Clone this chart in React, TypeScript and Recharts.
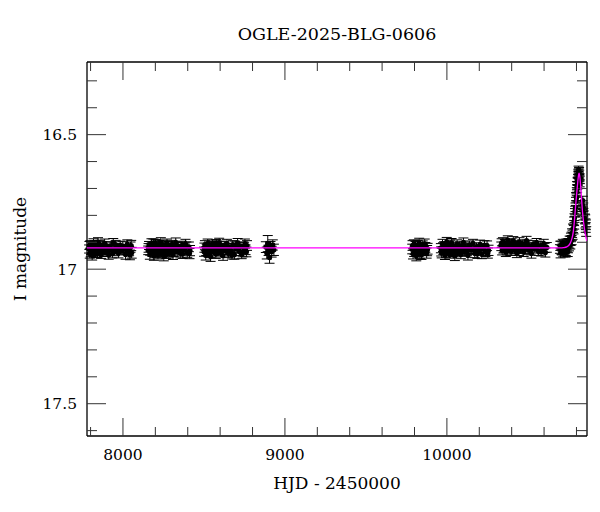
import React from "react";
import {
  ComposedChart,
  Scatter,
  ErrorBar,
  Line,
  XAxis,
  YAxis,
} from "recharts";

// OGLE seasons: [HJD - 2450000, I mag, error]
const season2017 = [
  [7791, 16.925, 0.015], [7795, 16.942, 0.017], [7799, 16.908, 0.014], [7803, 16.93, 0.016],
  [7806, 16.915, 0.015], [7810, 16.948, 0.018], [7814, 16.921, 0.014], [7818, 16.903, 0.016],
  [7822, 16.934, 0.015], [7826, 16.917, 0.013], [7831, 16.94, 0.017], [7836, 16.91, 0.015],
  [7841, 16.927, 0.014], [7846, 16.899, 0.016], [7852, 16.936, 0.015], [7858, 16.918, 0.013],
  [7865, 16.944, 0.016], [7872, 16.912, 0.014], [7879, 16.929, 0.015], [7887, 16.905, 0.017],
  [7895, 16.938, 0.014], [7903, 16.92, 0.013], [7912, 16.947, 0.016], [7921, 16.914, 0.015],
  [7930, 16.926, 0.014], [7940, 16.902, 0.016], [7950, 16.935, 0.015], [7961, 16.919, 0.014],
  [7972, 16.941, 0.017], [7983, 16.911, 0.015], [7994, 16.931, 0.016], [8005, 16.923, 0.015],
  [8016, 16.945, 0.018], [8027, 16.907, 0.016], [8038, 16.933, 0.017], [8047, 16.918, 0.019],
  [8054, 16.939, 0.02],
  [7793, 16.912, 0.015], [7801, 16.938, 0.016], [7808, 16.926, 0.015], [7816, 16.936, 0.016],
  [7824, 16.909, 0.014], [7833, 16.924, 0.015], [7843, 16.941, 0.016], [7855, 16.908, 0.015],
  [7868, 16.925, 0.014], [7883, 16.937, 0.016], [7899, 16.913, 0.015], [7916, 16.93, 0.016],
  [7935, 16.943, 0.015], [7955, 16.909, 0.016], [7977, 16.926, 0.015], [7999, 16.914, 0.016],
  [8021, 16.929, 0.017], [8043, 16.947, 0.018], [8051, 16.912, 0.019],
];

const season2018 = [
  [8156, 16.93, 0.016], [8161, 16.912, 0.015], [8166, 16.945, 0.018], [8171, 16.92, 0.014],
  [8176, 16.903, 0.016], [8181, 16.937, 0.015], [8186, 16.916, 0.014], [8191, 16.95, 0.017],
  [8196, 16.924, 0.015], [8201, 16.906, 0.016], [8206, 16.933, 0.014], [8211, 16.918, 0.015],
  [8216, 16.946, 0.016], [8222, 16.909, 0.015], [8228, 16.928, 0.013], [8234, 16.899, 0.016],
  [8240, 16.939, 0.015], [8246, 16.921, 0.014], [8252, 16.952, 0.017], [8258, 16.913, 0.015],
  [8265, 16.931, 0.014], [8272, 16.904, 0.016], [8279, 16.943, 0.015], [8286, 16.919, 0.014],
  [8293, 16.934, 0.016], [8301, 16.908, 0.015], [8309, 16.947, 0.017], [8317, 16.922, 0.014],
  [8326, 16.9, 0.016], [8335, 16.936, 0.015], [8344, 16.915, 0.014], [8354, 16.941, 0.017],
  [8364, 16.911, 0.015], [8375, 16.929, 0.016], [8386, 16.906, 0.017], [8397, 16.938, 0.018],
  [8407, 16.917, 0.018], [8414, 16.931, 0.019],
  [8158, 16.921, 0.016], [8168, 16.933, 0.015], [8178, 16.918, 0.016], [8188, 16.903, 0.015],
  [8198, 16.94, 0.016], [8208, 16.912, 0.015], [8219, 16.929, 0.014], [8231, 16.942, 0.016],
  [8243, 16.908, 0.015], [8255, 16.925, 0.016], [8268, 16.945, 0.015], [8282, 16.911, 0.014],
  [8297, 16.926, 0.016], [8313, 16.938, 0.015], [8330, 16.914, 0.016], [8349, 16.927, 0.015],
  [8369, 16.944, 0.016], [8391, 16.916, 0.017], [8411, 16.942, 0.019],
];

const season2019 = [
  [8501, 16.935, 0.017], [8506, 16.91, 0.016], [8511, 16.948, 0.018], [8517, 16.922, 0.015],
  [8523, 16.904, 0.016], [8529, 16.939, 0.015], [8535, 16.917, 0.014], [8541, 16.953, 0.018],
  [8547, 16.926, 0.015], [8553, 16.908, 0.016], [8559, 16.933, 0.014], [8566, 16.915, 0.015],
  [8573, 16.944, 0.016], [8580, 16.911, 0.015], [8587, 16.929, 0.014], [8594, 16.901, 0.016],
  [8602, 16.94, 0.015], [8610, 16.92, 0.014], [8618, 16.95, 0.017], [8626, 16.913, 0.015],
  [8634, 16.932, 0.014], [8642, 16.905, 0.016], [8651, 16.942, 0.015], [8660, 16.918, 0.014],
  [8669, 16.936, 0.016], [8678, 16.909, 0.015], [8688, 16.946, 0.017], [8698, 16.923, 0.014],
  [8708, 16.902, 0.016], [8718, 16.934, 0.015], [8728, 16.914, 0.015], [8738, 16.938, 0.016],
  [8748, 16.916, 0.016], [8757, 16.928, 0.018], [8766, 16.912, 0.018],
  [8503, 16.92, 0.017], [8514, 16.933, 0.016], [8526, 16.918, 0.015], [8538, 16.941, 0.016],
  [8550, 16.912, 0.015], [8562, 16.927, 0.014], [8576, 16.906, 0.016], [8590, 16.935, 0.015],
  [8606, 16.912, 0.016], [8622, 16.93, 0.015], [8638, 16.919, 0.014], [8655, 16.93, 0.016],
  [8673, 16.947, 0.015], [8693, 16.912, 0.016], [8713, 16.925, 0.015], [8733, 16.945, 0.016],
  [8753, 16.905, 0.017], [8762, 16.936, 0.018],
];

const season2020 = [
  [8882, 16.918, 0.02], [8888, 16.94, 0.022], [8894, 16.905, 0.03], [8899, 16.93, 0.019],
  [8905, 16.957, 0.021], [8911, 16.915, 0.018], [8918, 16.935, 0.02], [8925, 16.91, 0.019],
  [8932, 16.928, 0.021],
];

const season2022 = [
  [9786, 16.925, 0.018], [9791, 16.943, 0.019], [9796, 16.908, 0.017], [9801, 16.93, 0.016],
  [9806, 16.915, 0.018], [9811, 16.95, 0.019], [9817, 16.92, 0.016], [9823, 16.937, 0.017],
  [9829, 16.903, 0.018], [9836, 16.928, 0.016], [9843, 16.946, 0.018], [9851, 16.912, 0.017],
  [9859, 16.933, 0.016], [9867, 16.919, 0.018], [9875, 16.94, 0.019], [9881, 16.924, 0.02],
  [9788, 16.912, 0.018], [9798, 16.936, 0.017], [9809, 16.928, 0.018], [9820, 16.91, 0.017],
  [9833, 16.942, 0.018], [9847, 16.925, 0.017], [9863, 16.906, 0.018], [9878, 16.931, 0.019],
];

const season2023 = [
  [9963, 16.922, 0.017], [9968, 16.94, 0.018], [9973, 16.905, 0.016], [9978, 16.931, 0.015],
  [9983, 16.914, 0.016], [9988, 16.947, 0.017], [9993, 16.919, 0.014], [9999, 16.898, 0.016],
  [10005, 16.935, 0.015], [10011, 16.912, 0.014], [10017, 16.943, 0.016], [10023, 16.925, 0.015],
  [10029, 16.902, 0.016], [10035, 16.938, 0.015], [10042, 16.916, 0.014], [10049, 16.951, 0.017],
  [10056, 16.921, 0.015], [10063, 16.907, 0.016], [10070, 16.934, 0.014], [10078, 16.913, 0.015],
  [10086, 16.945, 0.016], [10094, 16.918, 0.015], [10102, 16.9, 0.016], [10111, 16.937, 0.015],
  [10120, 16.922, 0.014], [10130, 16.949, 0.017], [10140, 16.91, 0.015], [10150, 16.929, 0.016],
  [10161, 16.904, 0.015], [10172, 16.941, 0.016], [10183, 16.917, 0.015], [10194, 16.932, 0.016],
  [10205, 16.908, 0.016], [10216, 16.944, 0.017], [10227, 16.92, 0.016], [10238, 16.936, 0.017],
  [10248, 16.913, 0.018], [10257, 16.93, 0.019],
  [9965, 16.934, 0.017], [9976, 16.918, 0.016], [9986, 16.926, 0.016], [9996, 16.941, 0.015],
  [10008, 16.923, 0.015], [10020, 16.908, 0.016], [10032, 16.928, 0.015], [10045, 16.933, 0.016],
  [10059, 16.939, 0.015], [10074, 16.924, 0.015], [10090, 16.931, 0.016], [10106, 16.914, 0.015],
  [10125, 16.934, 0.016], [10145, 16.92, 0.015], [10166, 16.926, 0.016], [10188, 16.944, 0.016],
  [10210, 16.925, 0.016], [10232, 16.911, 0.017], [10253, 16.94, 0.019],
];

const season2024 = [
  [10336, 16.915, 0.016], [10341, 16.93, 0.017], [10346, 16.898, 0.015], [10352, 16.921, 0.016],
  [10358, 16.905, 0.015], [10364, 16.936, 0.017], [10370, 16.91, 0.014], [10376, 16.892, 0.016],
  [10382, 16.925, 0.015], [10389, 16.903, 0.014], [10396, 16.933, 0.016], [10403, 16.914, 0.015],
  [10410, 16.895, 0.016], [10417, 16.928, 0.015], [10424, 16.908, 0.014], [10432, 16.94, 0.017],
  [10440, 16.912, 0.015], [10448, 16.899, 0.016], [10456, 16.926, 0.014], [10465, 16.906, 0.015],
  [10474, 16.937, 0.016], [10483, 16.911, 0.015], [10492, 16.894, 0.016], [10502, 16.929, 0.015],
  [10512, 16.916, 0.014], [10522, 16.942, 0.017], [10532, 16.909, 0.015], [10543, 16.924, 0.016],
  [10554, 16.901, 0.015], [10565, 16.933, 0.016], [10576, 16.913, 0.015], [10587, 16.927, 0.016],
  [10598, 16.905, 0.016], [10608, 16.938, 0.017], [10617, 16.919, 0.018],
  [10338, 16.903, 0.016], [10349, 16.924, 0.016], [10361, 16.917, 0.015], [10373, 16.931, 0.016],
  [10386, 16.917, 0.015], [10399, 16.902, 0.015], [10414, 16.919, 0.016], [10428, 16.925, 0.015],
  [10444, 16.933, 0.016], [10460, 16.916, 0.015], [10478, 16.925, 0.016], [10497, 16.907, 0.015],
  [10517, 16.931, 0.016], [10538, 16.918, 0.015], [10560, 16.912, 0.016], [10582, 16.935, 0.016],
  [10603, 16.921, 0.017],
];

const season2025 = [
  [10698, 16.925, 0.016], [10702, 16.94, 0.018], [10706, 16.912, 0.016], [10710, 16.93, 0.017],
  [10714, 16.918, 0.015], [10718, 16.936, 0.018], [10722, 16.909, 0.016], [10726, 16.927, 0.017],
  [10730, 16.915, 0.016], [10734, 16.932, 0.017], [10738, 16.904, 0.016], [10742, 16.921, 0.015],
  [10746, 16.935, 0.018], [10750, 16.902, 0.016], [10754, 16.915, 0.017], [10758, 16.893, 0.016],
  [10762, 16.908, 0.017], [10766, 16.882, 0.016], [10770, 16.892, 0.017], [10773, 16.866, 0.016],
  [10776, 16.872, 0.017], [10779, 16.848, 0.016], [10782, 16.852, 0.017], [10785, 16.822, 0.016],
  [10788, 16.81, 0.016], [10791, 16.79, 0.015], [10794, 16.77, 0.016], [10797, 16.748, 0.015],
  [10800, 16.735, 0.015], [10802, 16.712, 0.015], [10804, 16.7, 0.014], [10806, 16.688, 0.014],
  [10808, 16.672, 0.014], [10810, 16.662, 0.014], [10812, 16.65, 0.013], [10814, 16.64, 0.013],
  [10815, 16.652, 0.013], [10817, 16.645, 0.013], [10819, 16.658, 0.013], [10821, 16.668, 0.014],
  [10838, 16.762, 0.016], [10840, 16.785, 0.016], [10842, 16.77, 0.016], [10844, 16.8, 0.017],
  [10852, 16.812, 0.017], [10855, 16.83, 0.017], [10857, 16.845, 0.018], [10860, 16.86, 0.018],
  [10700, 16.913, 0.017], [10708, 16.928, 0.017], [10716, 16.905, 0.016], [10724, 16.92, 0.017],
  [10732, 16.938, 0.017], [10740, 16.912, 0.016], [10748, 16.922, 0.017], [10756, 16.906, 0.016],
  [10764, 16.895, 0.017], [10771, 16.878, 0.016], [10786, 16.835, 0.016], [10792, 16.782, 0.016],
  [10798, 16.73, 0.015], [10803, 16.69, 0.015], [10807, 16.675, 0.014], [10811, 16.645, 0.014],
  [10813, 16.63, 0.013], [10816, 16.635, 0.013], [10818, 16.662, 0.013], [10820, 16.68, 0.014],
  [10839, 16.745, 0.016], [10843, 16.79, 0.016], [10854, 16.815, 0.017], [10858, 16.835, 0.018],
];

// microlensing model curve
const modelHjd = [
  7778, 8500, 9500, 10400, 10700, 10720, 10740, 10750, 10760, 10770, 10780, 10785, 10790,
  10795, 10800, 10805, 10810, 10813, 10816, 10819, 10822, 10827, 10832, 10837, 10842, 10847,
  10852, 10858, 10865,
];
const modelMag = [
  16.921, 16.921, 16.921, 16.921, 16.921, 16.92, 16.917, 16.913, 16.905, 16.89, 16.862, 16.835,
  16.8, 16.762, 16.728, 16.695, 16.664, 16.65, 16.643, 16.65, 16.664, 16.7, 16.745, 16.785,
  16.815, 16.84, 16.86, 16.88, 16.895,
];

const xTicks = [
  7800, 8000, 8200, 8400, 8600, 8800, 9000, 9200, 9400, 9600, 9800, 10000, 10200, 10400,
  10600, 10800,
];
const xMajor = [8000, 9000, 10000];
const yTicks = [
  16.3, 16.4, 16.5, 16.6, 16.7, 16.8, 16.9, 17, 17.1, 17.2, 17.3, 17.4, 17.5, 17.6,
];
const yMajor = [16.5, 17, 17.5];

const X_DOMAIN = [7778, 10865];
const Y_DOMAIN = [16.23, 17.62];

const FONT = "'DejaVu Serif', serif";
const TICK_COLOR = "#333";

const observations = [
  ...season2017, ...season2018, ...season2019, ...season2020,
  ...season2022, ...season2023, ...season2024, ...season2025,
].map(([hjd, mag, err]) => ({ hjd, mag, err }));

const model = modelHjd.map((hjd, i) => ({ hjd, mag: modelMag[i] }));

// ticks point inward; axis tickSize/tickMargin are 0 so x,y sit on the axis line
const BottomTick = ({ x, y, payload }: any) => {
  const major = xMajor.includes(payload.value);
  return (
    <g>
      <line x1={x} x2={x} y1={y} y2={y - (major ? 18 : 9)} stroke={TICK_COLOR} strokeWidth={1} />
      {major && (
        <text x={x} y={y + 19} dy="0.35em" textAnchor="middle" fontFamily={FONT} fontSize={15.5} fill="#000">
          {payload.value}
        </text>
      )}
    </g>
  );
};

const TopTick = ({ x, y, payload }: any) => {
  const major = xMajor.includes(payload.value);
  return <line x1={x} x2={x} y1={y} y2={y + (major ? 18 : 9)} stroke={TICK_COLOR} strokeWidth={1} />;
};

const LeftTick = ({ x, y, payload }: any) => {
  const major = yMajor.includes(payload.value);
  return (
    <g>
      <line x1={x} x2={x + (major ? 19 : 10)} y1={y} y2={y} stroke={TICK_COLOR} strokeWidth={1} />
      {major && (
        <text x={x - 10} y={y} dy="0.35em" textAnchor="end" fontFamily={FONT} fontSize={15.5} fill="#000">
          {payload.value}
        </text>
      )}
    </g>
  );
};

const RightTick = ({ x, y, payload }: any) => {
  const major = yMajor.includes(payload.value);
  return <line x1={x} x2={x - (major ? 19 : 10)} y1={y} y2={y} stroke={TICK_COLOR} strokeWidth={1} />;
};

const Dot = ({ cx, cy }: any) => <circle cx={cx} cy={cy} r={2.6} fill="#000" />;

const frame = { stroke: "#000", strokeWidth: 1.3 };

export default function App() {
  return (
    <div style={{ position: "absolute", left: 0, top: 0, width: 600, height: 512, background: "#fff" }}>
      <ComposedChart width={600} height={512} margin={{ top: 0, right: 0, bottom: 0, left: 0 }}>
        <XAxis
          xAxisId="bottom"
          dataKey="hjd"
          type="number"
          domain={X_DOMAIN}
          allowDataOverflow
          ticks={xTicks}
          interval={0}
          height={76}
          tickSize={0}
          tickMargin={0}
          tickLine={false}
          axisLine={frame}
          tick={<BottomTick />}
        />
        <XAxis
          xAxisId="top"
          orientation="top"
          dataKey="hjd"
          type="number"
          domain={X_DOMAIN}
          allowDataOverflow
          ticks={xTicks}
          interval={0}
          height={62}
          tickSize={0}
          tickMargin={0}
          tickLine={false}
          axisLine={frame}
          tick={<TopTick />}
        />
        <YAxis
          yAxisId="left"
          dataKey="mag"
          type="number"
          domain={Y_DOMAIN}
          reversed
          allowDataOverflow
          ticks={yTicks}
          interval={0}
          width={87}
          tickSize={0}
          tickMargin={0}
          tickLine={false}
          axisLine={frame}
          tick={<LeftTick />}
        />
        <YAxis
          yAxisId="right"
          orientation="right"
          dataKey="mag"
          type="number"
          domain={Y_DOMAIN}
          reversed
          allowDataOverflow
          ticks={yTicks}
          interval={0}
          width={13}
          tickSize={0}
          tickMargin={0}
          tickLine={false}
          axisLine={frame}
          tick={<RightTick />}
        />
        <Scatter
          xAxisId="bottom"
          yAxisId="left"
          data={observations}
          dataKey="mag"
          shape={<Dot />}
          isAnimationActive={false}
        >
          <ErrorBar dataKey="err" direction="y" width={5} stroke="#000" strokeWidth={1} isAnimationActive={false} />
        </Scatter>
        <Line
          xAxisId="bottom"
          yAxisId="left"
          data={model}
          dataKey="mag"
          type="monotone"
          stroke="#ff00ff"
          strokeWidth={1.3}
          dot={false}
          zIndex={2000}
          isAnimationActive={false}
        />
        <Line
          xAxisId="top"
          yAxisId="right"
          data={model}
          dataKey="mag"
          stroke="none"
          dot={false}
          isAnimationActive={false}
        />
      </ComposedChart>
      <div
        style={{
          position: "absolute", left: 87, top: 24, width: 500, height: 20, lineHeight: "20px",
          textAlign: "center", fontFamily: FONT, fontSize: 17.5, color: "#000",
        }}
      >
        OGLE-2025-BLG-0606
      </div>
      <div
        style={{
          position: "absolute", left: 87, top: 473, width: 500, height: 20, lineHeight: "20px",
          textAlign: "center", fontFamily: FONT, fontSize: 17, color: "#000",
        }}
      >
        HJD - 2450000
      </div>
      <div
        style={{
          position: "absolute", left: -80, top: 239, width: 200, height: 20, lineHeight: "20px",
          textAlign: "center", fontFamily: FONT, fontSize: 17, color: "#000", transform: "rotate(-90deg)",
        }}
      >
        I magnitude
      </div>
    </div>
  );
}
